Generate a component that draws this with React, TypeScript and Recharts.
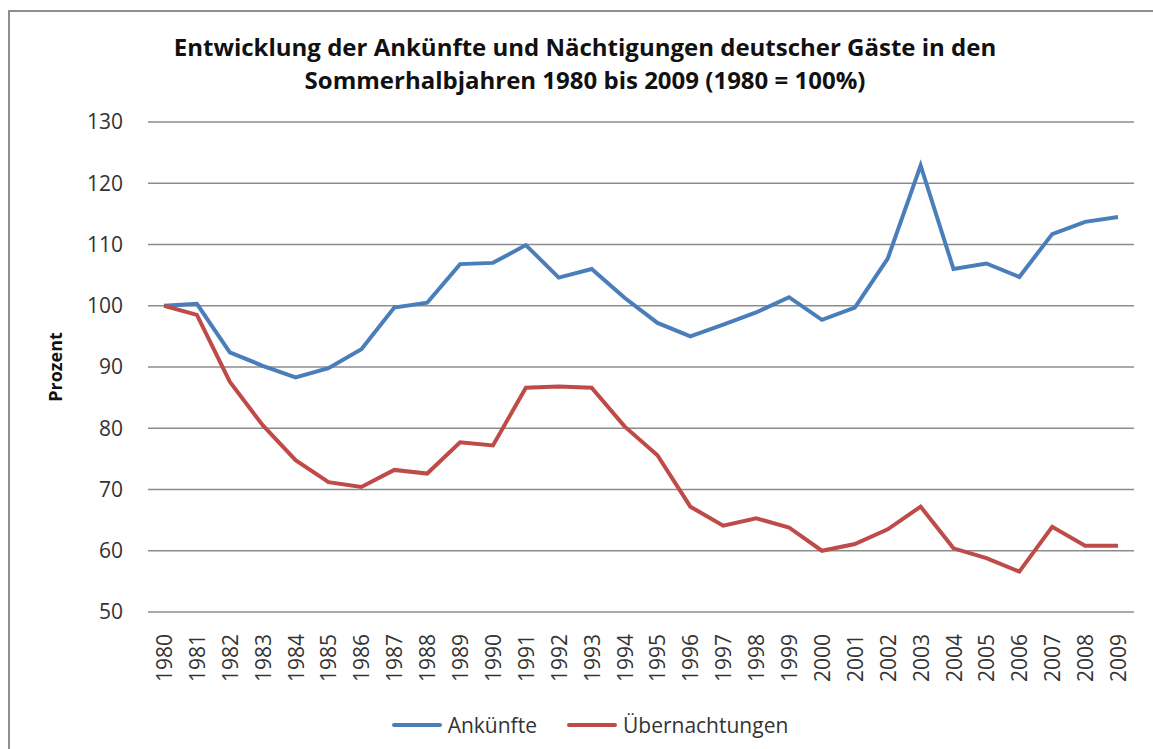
import React from "react";
import { LineChart, Line, XAxis, YAxis, CartesianGrid } from "recharts";

const years = [
  "1980", "1981", "1982", "1983", "1984", "1985", "1986", "1987", "1988", "1989",
  "1990", "1991", "1992", "1993", "1994", "1995", "1996", "1997", "1998", "1999",
  "2000", "2001", "2002", "2003", "2004", "2005", "2006", "2007", "2008", "2009",
];

// Ankünfte, 1980 = 100
const arrivals = [
  100, 100.3, 92.4, 90.2, 88.3, 89.8, 92.9, 99.7, 100.5, 106.8,
  107.0, 109.9, 104.6, 106.0, 101.3, 97.2, 95.0, 96.9, 98.9, 101.4,
  97.7, 99.7, 107.7, 122.9, 106.0, 106.9, 104.7, 111.7, 113.7, 114.5,
];

// Übernachtungen, 1980 = 100
const overnights = [
  100, 98.5, 87.6, 80.5, 74.8, 71.2, 70.4, 73.2, 72.6, 77.7,
  77.2, 86.6, 86.8, 86.6, 80.3, 75.6, 67.2, 64.1, 65.3, 63.8,
  60.0, 61.1, 63.5, 67.2, 60.4, 58.8, 56.6, 63.9, 60.8, 60.8,
];

const yTicks = [50, 60, 70, 80, 90, 100, 110, 120, 130];

const seriesNames = ["Ankünfte", "Übernachtungen"];
const seriesColors = ["#4a7ebb", "#be4b48"];

const data = years.map((year, i) => ({
  year,
  arrivals: arrivals[i],
  overnights: overnights[i],
}));

const FONT = "'Open Sans', sans-serif";

const YearTick = (props: any) => {
  const { x, y, payload } = props;
  return (
    <text
      x={x}
      y={y}
      transform={`rotate(-90, ${x}, ${y})`}
      textAnchor="end"
      dominantBaseline="central"
      fontSize={21}
      fontFamily={FONT}
      fill="#333"
    >
      {payload.value}
    </text>
  );
};

export default function App() {
  return (
    <div
      style={{
        position: "absolute",
        left: 0,
        top: 0,
        width: 1153,
        height: 749,
        overflow: "hidden",
        background: "#fff",
        fontFamily: FONT,
      }}
    >
      <div
        style={{
          position: "absolute",
          left: 8,
          top: 10,
          width: 1200,
          height: 800,
          borderLeft: "2px solid #8e8e8e",
          borderTop: "2px solid #8e8e8e",
        }}
      />

      <div
        style={{
          position: "absolute",
          left: 0,
          top: 30,
          width: 1170,
          textAlign: "center",
          fontSize: 24,
          lineHeight: "33px",
          fontWeight: 700,
          color: "#111",
        }}
      >
        Entwicklung der Ankünfte und Nächtigungen deutscher Gäste in den
        <br />
        Sommerhalbjahren 1980 bis 2009 (1980 = 100%)
      </div>

      <div style={{ position: "absolute", left: 0, top: 0 }}>
        <LineChart
          width={1153}
          height={749}
          data={data}
          margin={{ top: 122, right: 19, left: 40, bottom: 57 }}
        >
          <CartesianGrid vertical={false} stroke="#8c8c8c" strokeWidth={1.3} />
          <XAxis
            dataKey="year"
            interval={0}
            height={80}
            padding={{ left: 16, right: 16 }}
            axisLine={false}
            tickLine={false}
            tickSize={0}
            tickMargin={22}
            tick={<YearTick />}
          />
          <YAxis
            domain={[50, 130]}
            ticks={yTicks}
            width={108}
            axisLine={false}
            tickLine={false}
            tickSize={0}
            tickMargin={25}
            tick={{ fontSize: 21, fontFamily: FONT, fill: "#333" }}
            label={{
              value: "Prozent",
              angle: -90,
              position: "center",
              dx: -38,
              style: { fontSize: 18, fontWeight: 700, fontFamily: FONT, fill: "#111" },
            }}
          />
          <Line
            type="linear"
            dataKey="arrivals"
            name={seriesNames[0]}
            stroke={seriesColors[0]}
            strokeWidth={4}
            dot={false}
            isAnimationActive={false}
          />
          <Line
            type="linear"
            dataKey="overnights"
            name={seriesNames[1]}
            stroke={seriesColors[1]}
            strokeWidth={4}
            dot={false}
            isAnimationActive={false}
          />
        </LineChart>
      </div>

      <div
        style={{
          position: "absolute",
          left: 0,
          top: 710,
          width: 1180,
          display: "flex",
          justifyContent: "center",
          alignItems: "center",
          gap: 30,
          fontSize: 21,
          color: "#333",
          height: 30,
        }}
      >
        {seriesNames.map((name, i) => (
          <div key={name} style={{ display: "flex", alignItems: "center", gap: 6 }}>
            <span
              style={{
                display: "inline-block",
                width: 50,
                height: 4,
                borderRadius: 2,
                background: seriesColors[i],
              }}
            />
            <span>{name}</span>
          </div>
        ))}
      </div>
    </div>
  );
}
